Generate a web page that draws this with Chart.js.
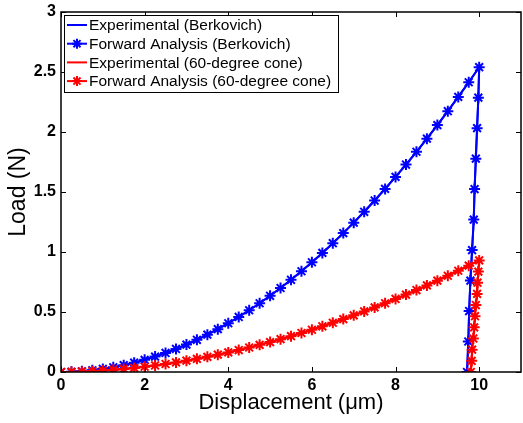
<!DOCTYPE html>
<html>
<head>
<meta charset="utf-8">
<script src="https://cdn.jsdelivr.net/npm/chart.js@4.4.0/dist/chart.umd.min.js"></script>
<style>
  html, body { margin: 0; padding: 0; background: #fff; overflow: hidden; }
  canvas { display: block; }
</style>
</head>
<body>
<canvas id="loadcurve" width="523" height="423"></canvas>
<script>
// indentation load-displacement data (displacement in um, load in N)
const berkDisp = [0, 0.25, 0.5, 0.75, 1, 1.25, 1.5, 1.75, 2, 2.25, 2.5, 2.75, 3, 3.25, 3.5, 3.75,
  4, 4.25, 4.5, 4.75, 5, 5.25, 5.5, 5.75, 6, 6.25, 6.5, 6.75, 7, 7.25, 7.5, 7.75,
  8, 8.25, 8.5, 8.75, 9, 9.25, 9.5, 9.75, 10,
  9.98, 9.95, 9.92, 9.89, 9.87, 9.83, 9.79, 9.76, 9.74, 9.71];
const berkLoad = [0, 0.0016, 0.0064, 0.0143, 0.0254, 0.0397, 0.0572, 0.0778, 0.1016, 0.1286, 0.1588, 0.1921, 0.2286, 0.2683, 0.3112, 0.3572,
  0.4064, 0.4588, 0.5144, 0.5731, 0.635, 0.7001, 0.7684, 0.8398, 0.9144, 0.9922, 1.0732, 1.1573, 1.2446, 1.3351, 1.4288, 1.5256,
  1.6256, 1.7288, 1.8352, 1.9447, 2.0574, 2.1733, 2.2924, 2.4146, 2.54,
  2.286, 2.032, 1.778, 1.524, 1.27, 1.016, 0.762, 0.508, 0.254, 0];

const coneDisp = [0, 0.25, 0.5, 0.75, 1, 1.25, 1.5, 1.75, 2, 2.25, 2.5, 2.75, 3, 3.25, 3.5, 3.75,
  4, 4.25, 4.5, 4.75, 5, 5.25, 5.5, 5.75, 6, 6.25, 6.5, 6.75, 7, 7.25, 7.5, 7.75,
  8, 8.25, 8.5, 8.75, 9, 9.25, 9.5, 9.75, 10,
  9.98, 9.96, 9.95, 9.92, 9.9, 9.88, 9.86, 9.83, 9.82, 9.8];
const coneLoad = [0, 0.0008, 0.0031, 0.0068, 0.0117, 0.0179, 0.0253, 0.0339, 0.0437, 0.0546, 0.0668, 0.08, 0.0944, 0.1099, 0.1265, 0.1443,
  0.1631, 0.183, 0.204, 0.2261, 0.2492, 0.2734, 0.2986, 0.325, 0.3523, 0.3808, 0.4102, 0.4407, 0.4722, 0.5048, 0.5384, 0.573,
  0.6086, 0.6453, 0.6829, 0.7216, 0.7613, 0.802, 0.8436, 0.8863, 0.93,
  0.837, 0.744, 0.651, 0.558, 0.465, 0.372, 0.279, 0.186, 0.093, 0];

const seriesNames = ['Experimental (Berkovich)', 'Forward Analysis (Berkovich)',
  'Experimental (60-degree cone)', 'Forward Analysis (60-degree cone)'];
const xTicks = [0, 2, 4, 6, 8, 10];
const yTicks = [0, 0.5, 1, 1.5, 2, 2.5, 3];

const BLUE = '#0000ff';
const RED = '#ff0000';
const FONT = '"Liberation Sans", Arial, Helvetica, sans-serif';

const pts = (xs, ys) => xs.map((x, i) => ({x: x, y: ys[i]}));

function series(i, xs, ys, color, markers, order) {
  return {
    label: seriesNames[i],
    data: pts(xs, ys),
    showLine: true,
    borderColor: color,
    backgroundColor: color,
    borderWidth: 2,
    pointStyle: 'star',
    pointRadius: markers ? 5.5 : 0,
    pointBorderWidth: 2,
    pointBorderColor: color,
    order: order
  };
}

// keep the plot box at a fixed place, no extra padding from tick labels
function fixAxis(size) {
  return s => {
    if (s.isHorizontal()) s.height = size; else s.width = size;
    s.paddingLeft = s.paddingRight = s.paddingTop = s.paddingBottom = 0;
  };
}

// matlab-style box with inward ticks and an inset legend
const axesBox = {
  id: 'axesBox',
  afterDatasetsDraw(chart) {
    const {ctx, chartArea: a, scales: {x, y}} = chart;
    ctx.save();
    ctx.strokeStyle = '#000';
    ctx.lineWidth = 1.5;
    ctx.strokeRect(a.left, a.top, a.right - a.left, a.bottom - a.top);
    ctx.beginPath();
    xTicks.forEach(v => {
      const px = Math.round(x.getPixelForValue(v)) + 0.5;
      ctx.moveTo(px, a.bottom); ctx.lineTo(px, a.bottom - 5);
      ctx.moveTo(px, a.top); ctx.lineTo(px, a.top + 5);
    });
    yTicks.forEach(v => {
      const py = Math.round(y.getPixelForValue(v)) + 0.5;
      ctx.moveTo(a.left, py); ctx.lineTo(a.left + 5, py);
      ctx.moveTo(a.right, py); ctx.lineTo(a.right - 5, py);
    });
    ctx.lineWidth = 1;
    ctx.stroke();

    // legend
    const bx = a.left + 3, by = a.top + 3, bw = 274, bh = 77;
    ctx.fillStyle = '#fff';
    ctx.fillRect(bx, by, bw, bh);
    ctx.strokeStyle = '#000';
    ctx.lineWidth = 1;
    ctx.strokeRect(bx + 0.5, by + 0.5, bw, bh);
    ctx.font = '15.5px ' + FONT;
    ctx.textBaseline = 'middle';
    chart.data.datasets.forEach((ds, i) => {
      const cy = by + 10 + i * 18.7;
      ctx.strokeStyle = ds.borderColor;
      ctx.lineWidth = 2;
      ctx.beginPath();
      ctx.moveTo(bx + 3, cy); ctx.lineTo(bx + 23, cy);
      ctx.stroke();
      if (ds.pointRadius > 0) {
        ctx.lineWidth = ds.pointBorderWidth;
        Chart.helpers.drawPoint(ctx, {pointStyle: 'star', radius: 5, borderWidth: ds.pointBorderWidth}, bx + 13, cy);
      }
      ctx.fillStyle = '#000';
      ctx.fillText(ds.label, bx + 25, cy + 1);
    });
    ctx.restore();
  }
};

new Chart(document.getElementById('loadcurve'), {
  type: 'scatter',
  data: {
    datasets: [
      series(0, berkDisp, berkLoad, BLUE, false, 4),
      series(1, berkDisp, berkLoad, BLUE, true, 3),
      series(2, coneDisp, coneLoad, RED, false, 2),
      series(3, coneDisp, coneLoad, RED, true, 1)
    ]
  },
  options: {
    responsive: false,
    animation: false,
    layout: {autoPadding: false, padding: {top: 12, right: 2, left: 0, bottom: 0}},
    plugins: {legend: {display: false}, tooltip: {enabled: false}},
    scales: {
      x: {
        type: 'linear',
        min: 0, max: 11,
        afterBuildTicks: s => { s.ticks = xTicks.map(v => ({value: v})); },
        afterFit: fixAxis(51),
        grid: {display: false, drawTicks: false},
        border: {display: false},
        ticks: {padding: 4, color: '#000', font: {family: FONT, size: 16, weight: 'bold'},
          callback: v => String(v)},
        title: {display: true, text: 'Displacement (μm)', color: '#000',
          font: {family: FONT, size: 22}, padding: {top: 0, bottom: 7}}
      },
      y: {
        type: 'linear',
        min: 0, max: 3,
        afterBuildTicks: s => { s.ticks = yTicks.map(v => ({value: v})); },
        afterFit: fixAxis(61),
        grid: {display: false, drawTicks: false},
        border: {display: false},
        ticks: {padding: 5, color: '#000', font: {family: FONT, size: 16, weight: 'bold'},
          callback: v => String(v)},
        title: {display: true, text: 'Load (N)', color: '#000',
          font: {family: FONT, size: 23}, padding: {top: 5, bottom: 0}}
      }
    }
  },
  plugins: [axesBox]
});
</script>
</body>
</html>
